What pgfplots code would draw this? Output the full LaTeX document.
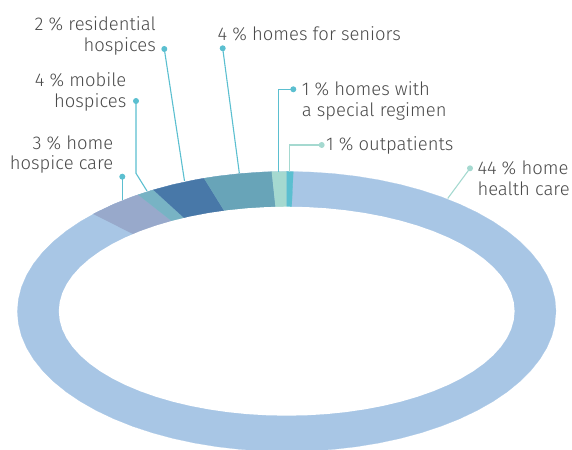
\documentclass[border=0pt]{standalone}
\usepackage{fontspec}
\setmainfont{Fira Sans Light}
\usepackage{pgfplots}
\pgfplotsset{compat=1.18}
\definecolor{hhc}{HTML}{A8C6E5}
\definecolor{hospc}{HTML}{98A9CB}
\definecolor{mobc}{HTML}{78B3C4}
\definecolor{resc}{HTML}{4878A8}
\definecolor{senc}{HTML}{68A4B8}
\definecolor{regc}{HTML}{A5D9D0}
\definecolor{outc}{HTML}{5BBFD0}
\definecolor{leadA}{HTML}{5BBFD0}
\definecolor{leadB}{HTML}{A5D9D0}
\definecolor{txt}{HTML}{4A4A4A}
\begin{document}
\begin{tikzpicture}
\pgfplotsset{base/.style={width=572bp,height=450bp,scale only axis,hide axis,at={(0,0)},anchor=south west},
  wedge/.style={data cs=polar,fill=#1,draw=#1,line width=0.2pt}}
% ring (outer ellipse = unit circle, polar data: angle, radius)
\begin{axis}[base,xmin=-1.06461,xmax=1.05941,ymin=-0.98929,ymax=2.225]
\addplot[wedge=hhc] coordinates {(0,1)(5,1)(10,1)(15,1)(20,1)(25,1)(30,1)(35,1)(40,1)(45,1)(50,1)(55,1)(60,1)(65,1)(70,1)(75,1)(80,1)(85,1)(90,1)(95,1)(100,1)(105,1)(110,1)(115,1)(120,1)(125,1)(130,1)(135,1)(140,1)(145,1)(150,1)(155,1)(160,1)(165,1)(170,1)(175,1)(180,1)(185,1)(190,1)(195,1)(200,1)(205,1)(210,1)(215,1)(220,1)(225,1)(230,1)(235,1)(240,1)(245,1)(250,1)(255,1)(260,1)(265,1)(270,1)(275,1)(280,1)(285,1)(290,1)(295,1)(300,1)(305,1)(310,1)(315,1)(320,1)(325,1)(330,1)(335,1)(340,1)(345,1)(350,1)(355,1)};
% home hospice care
\addplot[wedge=hospc] coordinates {(0,0)(123.5,1)(125,1)(130,1)(135,1)(135.9,1)};
% mobile hospices
\addplot[wedge=mobc] coordinates {(0,0)(119.7,1)(120,1)(123.5,1)};
% residential hospices
\addplot[wedge=resc] coordinates {(0,0)(107.9,1)(110,1)(115,1)(119.7,1)};
% homes for seniors
\addplot[wedge=senc] coordinates {(0,0)(93.2,1)(95,1)(100,1)(105,1)(107.9,1)};
% homes with a special regimen
\addplot[wedge=regc] coordinates {(0,0)(90,1)(93.2,1)};
% outpatients
\addplot[wedge=outc] coordinates {(0,0)(88.6,1)(90,1)};
\end{axis}
% hole (inner ellipse)
\begin{axis}[base,xmin=-1.25801,xmax=1.25187,ymin=-1.32823,ymax=2.97799]
\addplot[data cs=polar,fill=white,draw=none] coordinates {(0,1)(5,1)(10,1)(15,1)(20,1)(25,1)(30,1)(35,1)(40,1)(45,1)(50,1)(55,1)(60,1)(65,1)(70,1)(75,1)(80,1)(85,1)(90,1)(95,1)(100,1)(105,1)(110,1)(115,1)(120,1)(125,1)(130,1)(135,1)(140,1)(145,1)(150,1)(155,1)(160,1)(165,1)(170,1)(175,1)(180,1)(185,1)(190,1)(195,1)(200,1)(205,1)(210,1)(215,1)(220,1)(225,1)(230,1)(235,1)(240,1)(245,1)(250,1)(255,1)(260,1)(265,1)(270,1)(275,1)(280,1)(285,1)(290,1)(295,1)(300,1)(305,1)(310,1)(315,1)(320,1)(325,1)(330,1)(335,1)(340,1)(345,1)(350,1)(355,1)};
\end{axis}
% leaders and labels (pixel coordinates)
\begin{axis}[base,xmin=0,xmax=572,ymin=0,ymax=450,y dir=reverse,clip=false]
\path (rel axis cs:0,0) rectangle (rel axis cs:1,1);
\pgfplotsset{lead/.style={color=#1,line width=1.1bp,mark=*,mark size=2.4bp,mark indices={1},mark options={solid,fill=#1,draw=#1}}}
\addplot[lead=leadA] coordinates {(122.3,176.7)(122.3,200)};
\addplot[lead=leadA] coordinates {(136,101)(136,173.3)(147,191)};
\addplot[lead=leadA] coordinates {(164.3,49)(184.5,181)};
\addplot[lead=leadA] coordinates {(222.7,48.3)(239.3,173)};
\addplot[lead=leadA] coordinates {(293.3,89.3)(278.3,89.3)(278.3,172)};
\addplot[lead=leadB] coordinates {(321.7,145)(289.5,145)(289.5,172)};
\addplot[lead=leadB] coordinates {(470,168.3)(447.7,198.5)};
\tikzset{lab/.style={font=\fontsize{18.5}{22}\selectfont,text=txt,inner sep=0pt}}
\node[lab,anchor=base east] at (axis cs:156,31) {2 \% residential};
\node[lab,anchor=base east] at (axis cs:156,52) {hospices};
\node[lab,anchor=base west] at (axis cs:217.5,41) {4 \% homes for seniors};
\node[lab,anchor=base east] at (axis cs:126.5,87) {4 \% mobile};
\node[lab,anchor=base east] at (axis cs:126.5,107.5) {hospices};
\node[lab,anchor=base east] at (axis cs:113.5,149.5) {3 \% home};
\node[lab,anchor=base east] at (axis cs:113.5,170) {hospice care};
\node[lab,anchor=base west] at (axis cs:301.7,95.5) {1 \% homes with};
\node[lab,anchor=base west] at (axis cs:301.7,117) {a special regimen};
\node[lab,anchor=base west] at (axis cs:326,151) {1 \% outpatients};
\node[lab,anchor=base west] at (axis cs:477.3,174.5) {44 \% home};
\node[lab,anchor=base west] at (axis cs:477.3,195.5) {health care};
\end{axis}
\end{tikzpicture}
\end{document}
